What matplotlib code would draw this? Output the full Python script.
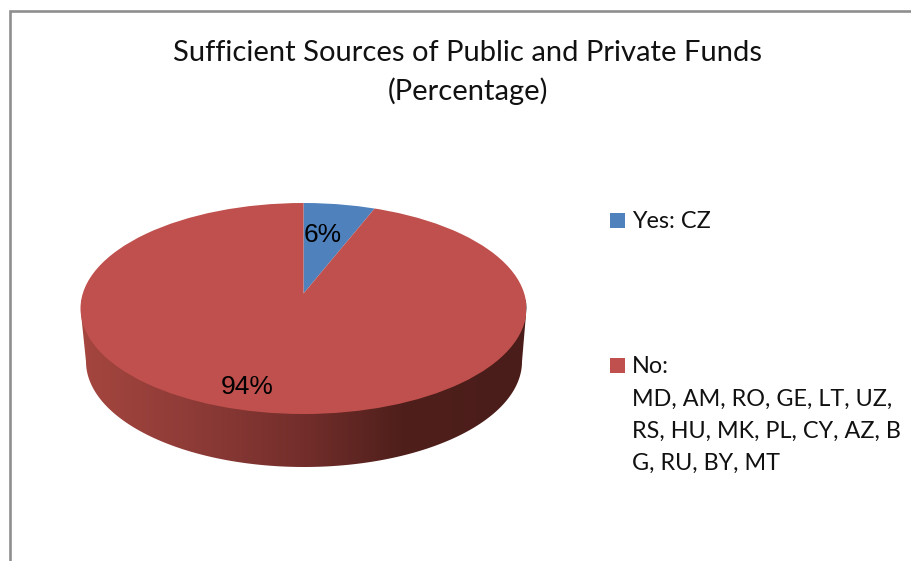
import matplotlib
matplotlib.use("Agg")
import matplotlib.pyplot as plt
from matplotlib.colors import LinearSegmentedColormap
from matplotlib.patches import Circle, Polygon, Rectangle
import numpy as np

# ---------------- DATA ----------------

title_lines = ["Sufficient Sources of Public and Private Funds", "(Percentage)"]
values = [6, 94]
colors = ["#4F81BD", "#C0504D"]
yes_label = "Yes: CZ"
no_label = ["No:", "MD, AM, RO, GE, LT, UZ,", "RS, HU, MK, PL, CY, AZ, B", "G, RU, BY, MT"]

W, H = 912, 561

fig = plt.figure(figsize=(W / 100, H / 100), dpi=100)

# pixel axes for frame, side wall, text and legend
ax = fig.add_axes([0, 0, 1, 1])
ax.set_xlim(0, W)
ax.set_ylim(H, 0)
ax.axis("off")

# ---------------- FRAME ----------------

ax.plot([10, 10, W], [H, 11, 11], color="#8E8E8E", lw=1.9, solid_joinstyle="miter")

# ---------------- PIE SIDE WALL ----------------

side_cmap = LinearSegmentedColormap.from_list(
    "side", [(0, "#A5463F"), (0.25, "#8E3B37"), (0.5, "#732E2B"), (0.72, "#4F1F1B"), (1, "#4A1D1A")]
)
grad = ax.imshow(np.linspace(0, 1, 256).reshape(1, -1), cmap=side_cmap,
                 extent=[81, 527, 467, 300], aspect="auto", zorder=1)
ax.set_xlim(0, W)
ax.set_ylim(H, 0)

t = np.linspace(0, np.pi, 200)
lower = np.column_stack([304 + 218 * np.cos(t), 361.5 + 105.5 * np.sin(t)])
upper = np.column_stack([303.5 - 223 * np.cos(t), 308.5 - 105.5 * np.sin(t)])
side = Polygon(np.vstack([lower, upper]), closed=True, fc="none", ec="none",
               transform=ax.transData)
ax.add_patch(side)
grad.set_clip_path(side)

# ---------------- PIE TOP ----------------

pie_ax = fig.add_axes([(303.5 - 223) / W, (H - 414) / H, 446 / W, 211 / H])
pie_ax.patch.set_alpha(0)
wedges, _ = pie_ax.pie(values, colors=colors, startangle=90, counterclock=False,
                       radius=1.6, center=(0, 15 / 105.5))
pie_ax.set_aspect("auto")
pie_ax.set_xlim(-1, 1)
pie_ax.set_ylim(-1, 1)
pie_ax.axis("off")
top = Circle((0, 0), 1, transform=pie_ax.transData)
for w in wedges:
    # pie turns clipping off on its wedges
    w.set_clip_on(True)
    w.set_clip_path(top)

# ---------------- TEXT ----------------

txt = fig.add_axes([0, 0, 1, 1])
txt.set_xlim(0, W)
txt.set_ylim(H, 0)
txt.axis("off")

txt.text(468, 53, title_lines[0], family="Lato", fontsize=21, ha="center", va="center", color="#111111")
txt.text(468, 91, title_lines[1], family="Lato", fontsize=21, ha="center", va="center", color="#111111")

txt.text(323, 235, f"{values[0]}%", family="Liberation Sans", fontsize=19, ha="center", va="center", color="black")
txt.text(247, 387, f"{values[1]}%", family="Liberation Sans", fontsize=19, ha="center", va="center", color="black")

txt.add_patch(Rectangle((610, 213), 15, 15, fc=colors[0], ec="none"))
txt.add_patch(Rectangle((610, 358), 15, 15, fc=colors[1], ec="none"))
txt.text(632, 221, yes_label, family="Lato", fontsize=16.8, ha="left", va="center", color="#111111")
for line, y in zip(no_label, [366, 399, 431, 463]):
    txt.text(632, y, line, family="Lato", fontsize=16.8, ha="left", va="center", color="#111111")

fig.savefig("out.png", dpi=100)
